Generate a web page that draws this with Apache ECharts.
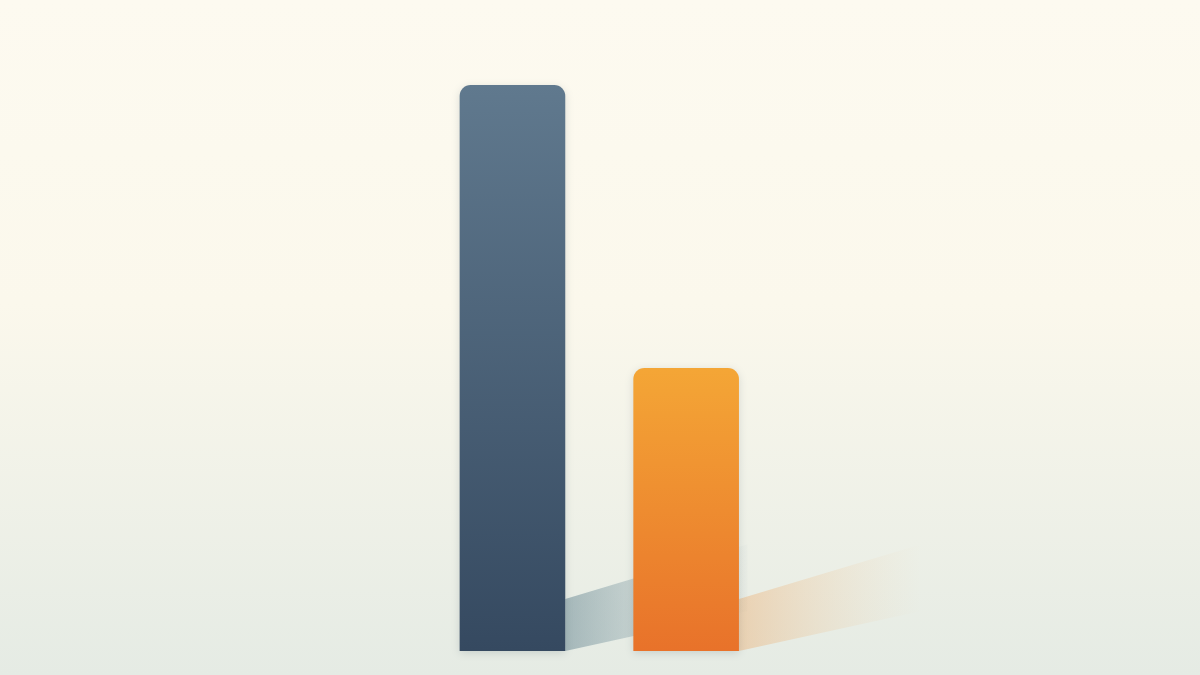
<!DOCTYPE html>
<html><head><meta charset="utf-8">
<script src="https://cdn.jsdelivr.net/npm/echarts@6/dist/echarts.min.js"></script>
<style>html,body{margin:0;padding:0;}#c{width:1200px;height:675px;}</style>
</head><body><div id="c"></div>
<script>
const categories = ['A', 'B'];
const values = [100, 50];

const barColors = [
  ['#60798e', '#354960'],
  ['#f4a636', '#e8722a']
];
const shadowColors = [
  ['rgba(110,140,150,0.55)', 'rgba(170,190,195,0.05)'],
  ['rgba(236,150,70,0.32)', 'rgba(240,200,150,0.0)']
];

const chart = echarts.init(document.getElementById('c'));
chart.setOption({
  backgroundColor: new echarts.graphic.LinearGradient(0, 0, 0, 1, [
    { offset: 0, color: '#fdfaf0' },
    { offset: 0.45, color: '#fbf8ec' },
    { offset: 1, color: '#e5ebe4' }
  ]),
  animation: false,
  grid: { left: 425.6, width: 347.4, top: 85, bottom: 24 },
  xAxis: { type: 'category', data: categories, show: false },
  yAxis: { type: 'value', min: 0, max: 100, show: false },
  series: [
    {
      type: 'custom',
      z: 1,
      data: values.map((v, i) => [i, v]),
      renderItem: function (params, api) {
        const idx = api.value(0);
        const base = api.coord([idx, 0]);
        const band = api.size([1, 0])[0];
        const bw = band * 0.608;
        const x2 = base[0] + bw / 2;
        const yb = base[1];
        const L = band * 1.05;
        const h = band * 0.3;
        const c = shadowColors[idx];
        return {
          type: 'polygon',
          shape: { points: [
            [x2, yb], [x2, yb - h],
            [x2 + L, yb - h - L * 0.3], [x2 + L, yb - L * 0.22]
          ] },
          style: {
            fill: new echarts.graphic.LinearGradient(0, 0, 1, 0, [
              { offset: 0, color: c[0] },
              { offset: 1, color: c[1] }
            ]),
            shadowBlur: 6,
            shadowColor: c[1]
          }
        };
      }
    },
    {
      type: 'bar',
      z: 2,
      barWidth: '60.8%',
      data: values.map((v, i) => ({
        value: v,
        itemStyle: {
          color: new echarts.graphic.LinearGradient(0, 0, 0, 1, [
            { offset: 0, color: barColors[i][0] },
            { offset: 1, color: barColors[i][1] }
          ]),
          borderRadius: [11, 11, 0, 0],
          shadowColor: 'rgba(60,80,90,0.18)',
          shadowBlur: 8,
          shadowOffsetY: 2
        }
      }))
    }
  ]
});
</script>
</body></html>
